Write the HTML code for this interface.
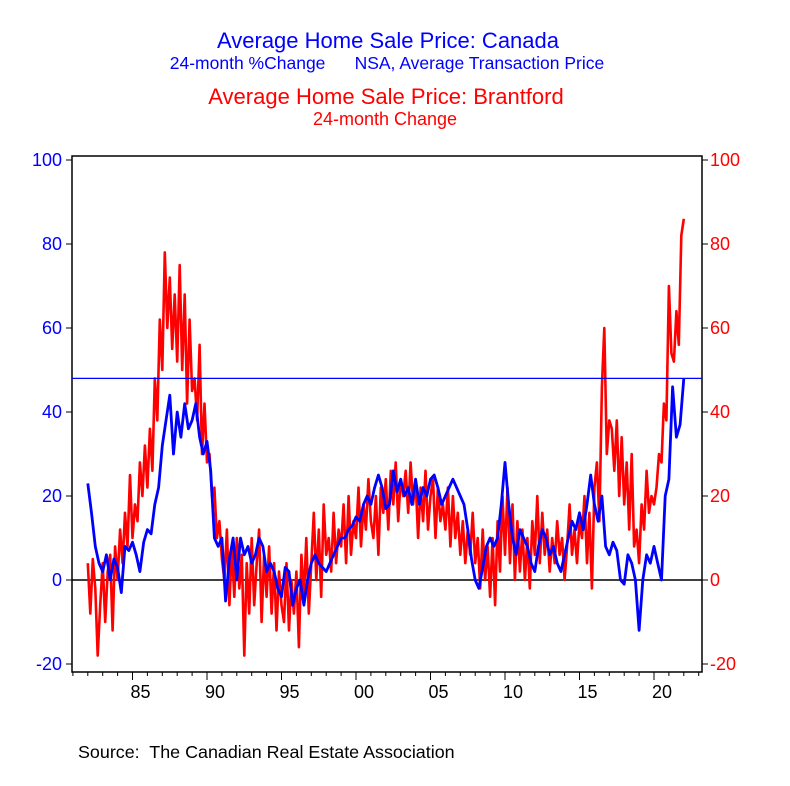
<!DOCTYPE html>
<html><head><meta charset="utf-8"><style>
body{margin:0;background:#fff;}
svg text{font-family:"Liberation Sans",Arial,sans-serif;white-space:pre;}
</style></head><body>
<svg id="chart" width="790" height="781" xmlns="http://www.w3.org/2000/svg">
<text x="388" y="48" text-anchor="middle" font-size="22" fill="#0000ff">Average Home Sale Price: Canada</text>
<text x="387" y="69" text-anchor="middle" font-size="17.5" fill="#0000ff" xml:space="preserve">24-month %Change      NSA, Average Transaction Price</text>
<text x="386" y="104" text-anchor="middle" font-size="22" fill="#ff0000">Average Home Sale Price: Brantford</text>
<text x="385" y="125" text-anchor="middle" font-size="18" fill="#ff0000">24-month Change</text>
<text x="78" y="758" font-size="17.9" fill="#000" xml:space="preserve">Source:  The Canadian Real Estate Association</text>
<g id="plot"></g>
</svg>
<script>
const yTicks=[-20,0,20,40,60,80,100];
const xTickYears=[1985,1990,1995,2000,2005,2010,2015,2020];
const xTickLabels=["85","90","95","00","05","10","15","20"];
const refLevel=48;
const canadaStart=1982.0, canadaStep=0.25;
const canadaValues=[23,
16,8,4,2, 6,0,5,3, -3,8,7,9, 6,2,9,12, 11,18,22,32, 38,44,30,40, 34,42,36,38, 42,34,30,33,
26,10,8,10, -5,5,10,0, 10,6,8,4, 6,10,8,2, 4,2,-2,-4, 3,2,-6,-2, 0,-6,0,4, 6,4,3,2,
4,6,8,10, 10,12,13,15, 14,18,20,18, 22,25,22,17, 18,26,21,24, 20,22,18,24, 18,22,20,24, 25,22,18,20,
22,24,22,20, 18,12,5,0, -2,3,8,10, 8,10,18,28, 18,10,6,12, 10,8,4,2, 8,12,10,6, 8,4,2,6,
10,14,12,16, 12,18,25,18, 14,20,8,6, 9,7,0,-1, 6,4,0,-12, 0,6,4,8, 4,0,20,24, 46,34,37,48];
const brantStart=1982.0, brantStep=1/6;
const brantValues=[4,
-8,5,-2,-18,-6,4, -10,2,6,-12,8,0, 12,4,16,8,25,10, 18,14,28,20,32,22, 36,26,48,38,62,50,
78,60,72,55,68,52, 75,50,68,42,62,45, 48,38,56,30,42,28, 30,20,22,10,14,5, 0,12,-6,8,-4,10,
-2,6,-18,4,-8,10, -6,4,12,-10,6,-4, 8,-8,4,-12,2,-6, -10,4,-12,0,-8,2, -16,6,-4,10,-8,4,
16,0,12,-4,18,6, 10,2,16,4,12,8, 18,4,20,6,14,10, 22,8,18,12,24,14, 10,20,6,22,16,24,
12,26,18,28,14,24, 20,26,16,28,18,24, 10,22,14,26,12,20, 24,10,22,14,18,12, 22,8,20,10,16,6,
14,4,12,6,16,4, 10,-2,12,0,8,-4, 10,-6,14,2,20,6, 22,4,18,0,14,2, 12,0,10,-2,14,6,
20,4,16,6,12,2, 10,4,14,6,10,0, 8,18,6,12,4,14, 10,20,4,16,-2,22, 28,14,46,60,30,38,
36,26,38,20,34,18, 28,12,30,8,12,4, 18,12,26,16,20,18, 22,30,28,42,38,70, 54,52,64,56,82,86];

const L=72,R=702,T=156,B=672;
const yS=v=>580-v*4.2;
const xS=yr=>132.5+(yr-1985)*14.9;
const ns="http://www.w3.org/2000/svg";
const g=document.getElementById('plot');
function mk(tag,attrs){const e=document.createElementNS(ns,tag);for(const k in attrs)e.setAttribute(k,attrs[k]);g.appendChild(e);return e;}

let fr=mk('rect',{x:L,y:T,width:R-L,height:B-T,fill:'none',stroke:'#000','stroke-width':1.5});



yTicks.forEach(v=>{
  let t=mk('line',{x1:L-6,x2:L,y1:yS(v),y2:yS(v),stroke:'#000'});
  
  
  let t2=mk('line',{x1:R,x2:R+6,y1:yS(v),y2:yS(v),stroke:'#000'});
  
  
  let a=mk('text',{x:L-10,y:yS(v)+6,'text-anchor':'end','font-size':18,fill:'#0000ff'});a.textContent=v;
  
  
  let b=mk('text',{x:R+8,y:yS(v)+6,'text-anchor':'start','font-size':18,fill:'#ff0000'});b.textContent=v;
  
  
});
for(let yr=1981;yr<=2023;yr++){
  const x=xS(yr); if(x<L||x>R) continue;
  let t=mk('line',{x1:x,x2:x,y1:B,y2:B+4,stroke:'#000'});
  
  
}
xTickYears.forEach((yr,i)=>{
  let t=mk('line',{x1:xS(yr),x2:xS(yr),y1:B,y2:B+8,stroke:'#000'});
  
  
  let a=mk('text',{x:xS(yr)+8,y:B+26,'text-anchor':'middle','font-size':18,fill:'#000'});a.textContent=xTickLabels[i];
  
  
});
let z=mk('line',{x1:L,x2:R,y1:yS(0),y2:yS(0),stroke:'#000','stroke-width':1.5});



function path(vals,start,step){return vals.map((v,i)=>(i?'L':'M')+xS(start+i*step).toFixed(1)+','+yS(v).toFixed(1)).join('');}
let rp=mk('path',{d:path(brantValues,brantStart,brantStep),fill:'none',stroke:'#ff0000','stroke-width':2.6,'stroke-linejoin':'round'});


let bp=mk('path',{d:path(canadaValues,canadaStart,canadaStep),fill:'none',stroke:'#0000ff','stroke-width':2.8,'stroke-linejoin':'round'});


let rl=mk('line',{x1:L,x2:R,y1:yS(refLevel),y2:yS(refLevel),stroke:'#0000ff','stroke-width':1.2});


</script>
</body></html>
